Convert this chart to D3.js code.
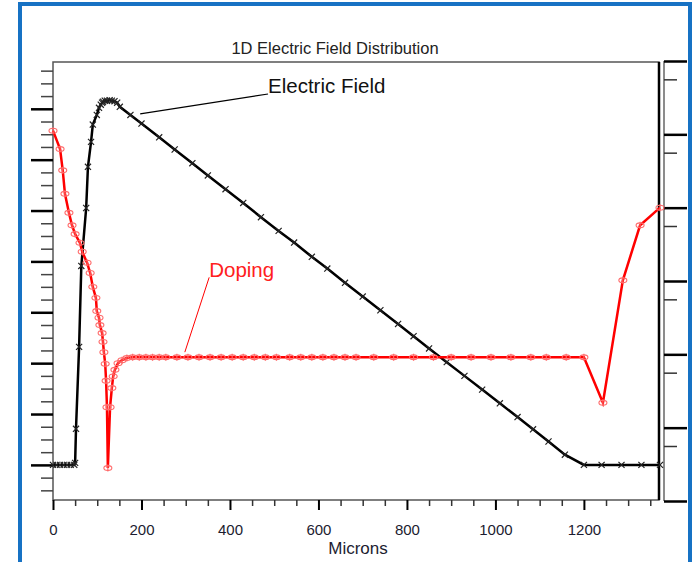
<!DOCTYPE html>
<html>
<head>
<meta charset="utf-8">
<script src="https://cdn.jsdelivr.net/npm/d3@7"></script>
<style>
  body { margin: 0; background: #fff; }
  svg { display: block; font-family: "Liberation Sans", Arial, sans-serif; }
</style>
</head>
<body>
<svg id="chart" width="694" height="562"></svg>
<script>
// electric field, microns vs field (arbitrary units, one major tick = 1)
var efX = [0, 8, 16, 24, 32, 40, 48, 50, 52, 59, 64, 75, 79, 86, 90, 99, 104, 108, 111, 113, 117, 122, 128, 133, 139, 145, 151,
    175, 200, 240, 275, 315, 350, 390, 430, 470, 510, 545, 585, 620, 660, 700, 740, 780, 815, 850, 890, 930, 970,
    1010, 1050, 1085, 1120, 1157, 1200, 1240, 1285, 1330, 1372];
var efY = [0, 0, 0, 0, 0, 0, 0, 0.04, 0.71, 2.32, 3.91, 5.05, 5.86, 6.35, 6.69, 6.88, 7.02, 7.08, 7.12, 7.14, 7.16, 7.16, 7.17, 7.16, 7.15, 7.12, 7.04,
    6.88, 6.71, 6.44, 6.20, 5.93, 5.69, 5.42, 5.15, 4.87, 4.60, 4.37, 4.09, 3.86, 3.58, 3.31, 3.04, 2.77, 2.53, 2.29, 2.02, 1.75, 1.48,
    1.21, 0.94, 0.70, 0.46, 0.20, 0, 0, 0, 0, 0];

// doping, log scale on the right axis
var dopX = [0, 16, 22, 27, 36, 43, 50, 61, 66, 77, 84, 90, 97, 99, 104, 106, 111, 113, 115, 118, 120, 122, 124, 129, 133, 136, 140, 147, 156, 167,
    180, 195, 210, 225, 240, 255, 280, 305, 330, 355, 380, 405, 430, 455, 480, 505, 535, 560, 585, 610, 635, 660, 685,
    725, 770, 815, 860, 900, 945, 990, 1035, 1080, 1115, 1160, 1200, 1243, 1288, 1327, 1372];
var dopY = [5.05, 4.80, 4.51, 4.19, 3.93, 3.76, 3.64, 3.52, 3.40, 3.25, 3.11, 2.92, 2.77, 2.59, 2.50, 2.40, 2.29, 2.17, 2.03, 1.87, 1.64, 1.28, 0.45, 1.28, 1.54, 1.70, 1.79, 1.88, 1.92, 1.95,
    1.96, 1.96, 1.96, 1.96, 1.96, 1.96, 1.96, 1.96, 1.96, 1.96, 1.96, 1.96, 1.96, 1.96, 1.96, 1.96, 1.96, 1.96, 1.96, 1.96, 1.96, 1.96, 1.96,
    1.96, 1.96, 1.96, 1.96, 1.96, 1.96, 1.96, 1.96, 1.96, 1.96, 1.96, 1.96, 1.34, 3.01, 3.76, 4.00];

var xMajor = [0, 200, 400, 600, 800, 1000, 1200];
var xMinor = [50, 100, 150, 250, 300, 350, 450, 500, 550, 650, 700, 750, 850, 900, 950, 1050, 1100, 1150, 1250, 1300, 1350];
var leftMajor = [0, 1, 2, 3, 4, 5, 6, 7];
var leftMinor = [-0.5, -0.25, 0.25, 0.5, 0.75, 1.25, 1.5, 1.75, 2.25, 2.5, 2.75, 3.25, 3.5, 3.75, 4.25, 4.5, 4.75,
    5.25, 5.5, 5.75, 6.25, 6.5, 6.75, 7.25, 7.5, 7.75];
var rightMajor = [0, 1, 2, 3, 4, 5, 6];
var rightMinor = [0.75, 1.75, 2.75, 3.75, 4.75, 5.75];

// annotation anchors in data units: label position, and where the leader touches the curve
var efLabel = { text: "Electric Field", x: 486, y: 7.31, lx: 197, ly: 6.90 };
var dopLabel = { text: "Doping", x: 353, y: 3.05, lx: 298, ly: 2.03 };

function draw() {
    var svg = d3.select("#chart");

    var pLeft = 53, pRight = 660, pTop = 62, pBottom = 500;

    var x = d3.scaleLinear().domain([0, 1372]).range([pLeft, pRight]);
    var yL = d3.scaleLinear().domain([-0.69, 7.92]).range([pBottom, pTop]);
    var yR = d3.scaleLinear().domain([0, 6]).range([501, 61]);

    // blue window border
    svg.append("rect")
        .attr("x", 20).attr("y", 4).attr("width", 670).attr("height", 600)
        .attr("fill", "none").attr("stroke", "#1772c4").attr("stroke-width", 4);

    svg.append("text")
        .attr("x", 335).attr("y", 54)
        .attr("text-anchor", "middle")
        .attr("font-size", 16.5)
        .attr("fill", "#222")
        .text("1D Electric Field Distribution");

    // plot frame
    svg.append("rect")
        .attr("x", pLeft).attr("y", pTop).attr("width", 606).attr("height", pBottom - pTop)
        .attr("fill", "none").attr("stroke", "#555").attr("stroke-width", 1.5);
    svg.append("line")
        .attr("x1", 659).attr("x2", 659).attr("y1", pTop).attr("y2", pBottom)
        .attr("stroke", "#000").attr("stroke-width", 2.5);
    svg.append("line")
        .attr("x1", 664).attr("x2", 664).attr("y1", 61).attr("y2", 501)
        .attr("stroke", "#666").attr("stroke-width", 1.5);

    function styleAxis(g, color, w) {
        g.select(".domain").remove();
        g.selectAll(".tick line").attr("stroke", color).attr("stroke-width", w);
    }

    // x axis
    svg.append("g").attr("transform", "translate(0," + pBottom + ")")
        .call(d3.axisBottom(x).tickValues(xMinor).tickSize(6).tickFormat(""))
        .call(styleAxis, "#333", 1.5);
    var gx = svg.append("g").attr("transform", "translate(0," + pBottom + ")")
        .call(d3.axisBottom(x).tickValues(xMajor).tickSize(10).tickPadding(14).tickFormat(d3.format("d")))
        .call(styleAxis, "#000", 2);
    gx.selectAll(".tick text")
        .attr("font-size", 15).attr("fill", "#1c1c30")
        .attr("font-family", "Liberation Sans, Arial, sans-serif");

    svg.append("text")
        .attr("x", 358).attr("y", 554)
        .attr("text-anchor", "middle")
        .attr("font-size", 17).attr("fill", "#1c1c30")
        .text("Microns");

    // left axis (no labels)
    svg.append("g").attr("transform", "translate(" + pLeft + ",0)")
        .call(d3.axisLeft(yL).tickValues(leftMinor).tickSize(12).tickFormat(""))
        .call(styleAxis, "#444", 1.5);
    svg.append("g").attr("transform", "translate(" + pLeft + ",0)")
        .call(d3.axisLeft(yL).tickValues(leftMajor).tickSize(22).tickFormat(""))
        .call(styleAxis, "#000", 2.5);

    // right axis (no labels)
    svg.append("g").attr("transform", "translate(664,0)")
        .call(d3.axisRight(yR).tickValues(rightMinor).tickSize(13).tickFormat(""))
        .call(styleAxis, "#333", 1.5);
    svg.append("g").attr("transform", "translate(664,0)")
        .call(d3.axisRight(yR).tickValues(rightMajor).tickSize(23).tickFormat(""))
        .call(styleAxis, "#000", 2.5);

    // electric field
    var ef = efX.map(function(d, i) { return [d, efY[i]]; });
    svg.append("path")
        .datum(ef)
        .attr("d", d3.line().x(function(d) { return x(d[0]); }).y(function(d) { return yL(d[1]); }))
        .attr("fill", "none").attr("stroke", "#000").attr("stroke-width", 2.5);
    svg.append("g").selectAll("path").data(ef).enter().append("path")
        .attr("d", d3.symbol().type(d3.symbolX).size(26))
        .attr("transform", function(d) { return "translate(" + x(d[0]) + "," + yL(d[1]) + ")"; })
        .attr("fill", "none").attr("stroke", "#222").attr("stroke-width", 1.2);

    // doping
    var dop = dopX.map(function(d, i) { return [d, dopY[i]]; });
    svg.append("path")
        .datum(dop)
        .attr("d", d3.line().x(function(d) { return x(d[0]); }).y(function(d) { return yR(d[1]); }))
        .attr("fill", "none").attr("stroke", "#ff0000").attr("stroke-width", 2.5);
    var dm = svg.append("g").selectAll("g").data(dop).enter().append("g")
        .attr("transform", function(d) { return "translate(" + x(d[0]) + "," + yR(d[1]) + ")"; });
    dm.append("ellipse").attr("rx", 4).attr("ry", 2.4)
        .attr("fill", "none").attr("stroke", "#ff6a6a").attr("stroke-width", 1.1);
    dm.append("line").attr("y1", -3.5).attr("y2", 3.5)
        .attr("stroke", "#ff6a6a").attr("stroke-width", 1.1);

    // annotations
    svg.append("line")
        .attr("x1", x(efLabel.lx)).attr("y1", yL(efLabel.ly))
        .attr("x2", x(efLabel.x)).attr("y2", yL(efLabel.y) + 1)
        .attr("stroke", "#000").attr("stroke-width", 1.2);
    svg.append("text")
        .attr("x", x(efLabel.x)).attr("y", yL(efLabel.y))
        .attr("font-size", 20.5).attr("fill", "#111")
        .text(efLabel.text);

    svg.append("line")
        .attr("x1", x(dopLabel.x)).attr("y1", yR(dopLabel.y))
        .attr("x2", x(dopLabel.lx)).attr("y2", yR(dopLabel.ly))
        .attr("stroke", "#ff0000").attr("stroke-width", 1);
    svg.append("text")
        .attr("x", x(dopLabel.x)).attr("y", yR(dopLabel.y))
        .attr("font-size", 20.5).attr("fill", "#ff2020")
        .text(dopLabel.text);
}

draw();
</script>
</body>
</html>
